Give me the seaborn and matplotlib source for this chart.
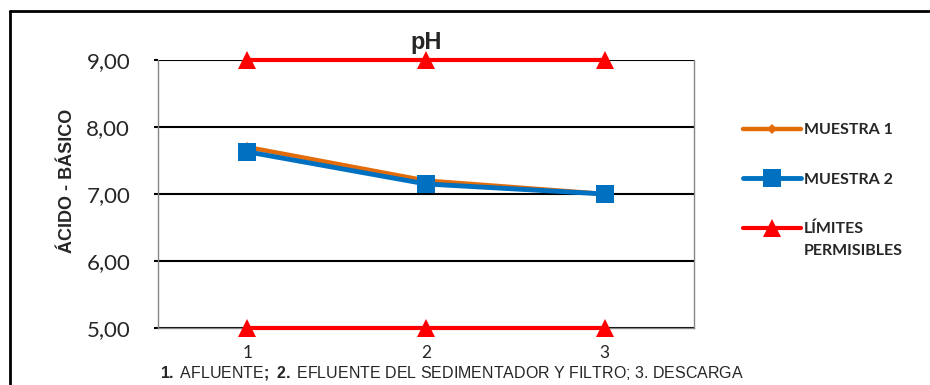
import numpy as np
import pandas as pd
import seaborn as sns
import matplotlib.pyplot as plt
from matplotlib.lines import Line2D

# datos
puntos = [1, 2, 3]
muestra_1 = [7.70, 7.20, 7.00]
muestra_2 = [7.63, 7.15, 7.00]
limite_sup = [9.00, 9.00, 9.00]
limite_inf = [5.00, 5.00, 5.00]
y_ticks = [5, 6, 7, 8, 9]
y_tick_labels = ["5,00", "6,00", "7,00", "8,00", "9,00"]

sns.set_theme(style="white")
plt.rcParams['font.family'] = ['Liberation Sans', 'DejaVu Sans']
plt.rcParams['mathtext.fontset'] = 'custom'
plt.rcParams['mathtext.rm'] = 'Liberation Sans'
plt.rcParams['mathtext.bf'] = 'Liberation Sans:bold'

fig = plt.figure(figsize=(9.3, 3.85), dpi=100)
ax = fig.add_axes([158 / 930, 1 - 328 / 385, (694 - 158) / 930, (328 - 60) / 385])

rojo = "#FF0000"
naranja = "#E36C09"
azul = "#0070C0"

sns.lineplot(x=puntos, y=limite_sup, ax=ax, color=rojo, linewidth=3, marker="^",
             markersize=13, markeredgewidth=0, label="LÍMITES", clip_on=False, zorder=3)
sns.lineplot(x=puntos, y=limite_inf, ax=ax, color=rojo, linewidth=3, marker="^",
             markersize=13, markeredgewidth=0, clip_on=False, zorder=3)
sns.lineplot(x=puntos, y=muestra_1, ax=ax, color=naranja, linewidth=3.2, marker="D",
             markersize=5, markeredgewidth=0, label="MUESTRA 1", zorder=4)
sns.lineplot(x=puntos, y=muestra_2, ax=ax, color=azul, linewidth=3.5, marker="s",
             markersize=13, markeredgewidth=0, label="MUESTRA 2", zorder=5)

ax.set_xlim(0.5, 3.5)
ax.set_ylim(5, 9)
ax.set_xticks(puntos)
ax.set_xticklabels([str(p) for p in puntos], fontfamily="Lato", fontsize=12.5)
ax.set_yticks(y_ticks)
ax.set_yticklabels(y_tick_labels, fontfamily="Lato", fontsize=16)
ax.tick_params(axis="y", length=3, width=1.5, color="black", pad=17, left=True)
ax.tick_params(axis="x", length=0, pad=12)
ax.grid(axis="y", color="black", linewidth=1.5)
ax.set_axisbelow(True)
for side in ["left", "right", "bottom"]:
    ax.spines[side].set_color("#868686")
    ax.spines[side].set_linewidth(1)
ax.spines["top"].set_visible(False)

ax.set_xlabel("")
ax.set_ylabel("ÁCIDO - BÁSICO", fontsize=13, fontweight="bold", va="center")
ax.yaxis.set_label_coords(-0.168, 0.55)
ax.set_title("pH", fontsize=17, fontweight="bold", pad=8)

fig.text(452 / 930, 1 - 373 / 385,
         r"$\bf{1.}$" + "\u2009AFLUENTE" + r"$\bf{;\ 2.}$" + "\u2009EFLUENTE DEL SEDIMENTADOR Y FILTRO; 3. DESCARGA",
         ha="center", va="center", fontsize=11.5)

handles, labels = ax.get_legend_handles_labels()
orden = [labels.index("MUESTRA 1"), labels.index("MUESTRA 2"), labels.index("LÍMITES")]
leg = ax.legend([handles[i] for i in orden], [labels[i] for i in orden],
                loc="upper left", bbox_to_anchor=(743 / 930, 1 - 123 / 385),
                bbox_transform=fig.transFigure, frameon=False, borderpad=0,
                borderaxespad=0, handlelength=3.6, handletextpad=0.2,
                labelspacing=2.2, prop={"family": "Lato", "weight": "bold", "size": 11.5})
ax.annotate("PERMISIBLES", xy=(0, 0), xycoords=leg.get_texts()[2], xytext=(0, -6),
            textcoords="offset points", va="top", ha="left", zorder=20,
            fontfamily="Lato", fontweight="bold", fontsize=11.5)

# marco exterior del grafico (recortado a la derecha y abajo)
fig.add_artist(Line2D([10 / 930, 10 / 930], [0, 1 - 11 / 385], transform=fig.transFigure,
                      color="black", linewidth=2))
fig.add_artist(Line2D([10 / 930, 1], [1 - 11 / 385, 1 - 11 / 385], transform=fig.transFigure,
                      color="black", linewidth=2))

fig.savefig("out.png", dpi=100)
